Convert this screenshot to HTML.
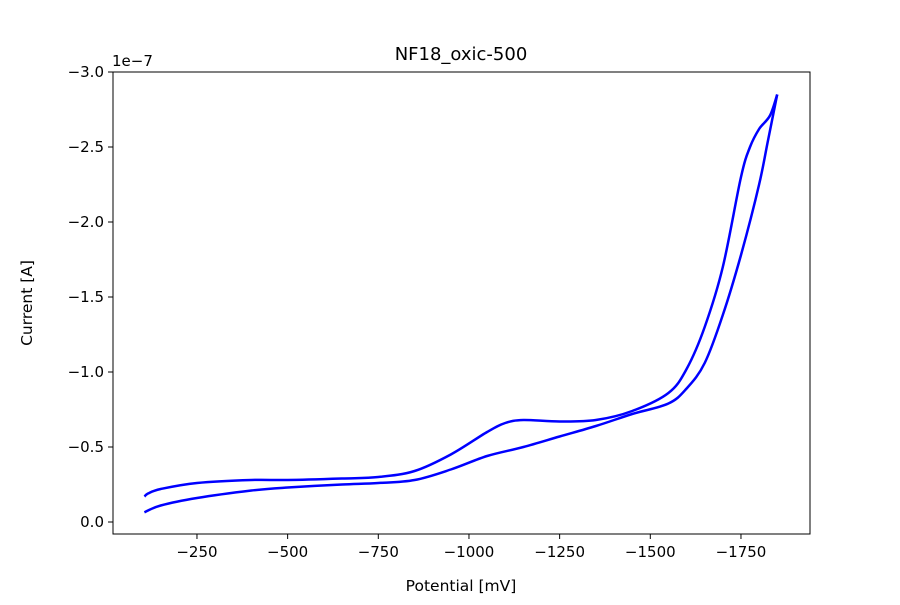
<!DOCTYPE html>
<html><head><meta charset="utf-8"><style>
body{margin:0;background:#fff}
svg text{font-family:"DejaVu Sans","Liberation Sans",sans-serif;fill:#000}
</style></head><body>
<svg id="chart" width="900" height="600" xmlns="http://www.w3.org/2000/svg">
<rect width="900" height="600" fill="#fff"/>
<text x="461" y="60" font-size="18" text-anchor="middle">NF18_oxic-500</text>
<text x="112" y="66" font-size="15">1e−7</text>
<g id="ticks"></g>
<g id="series"></g>
<rect x="113" y="72" width="697" height="462" fill="none" stroke="#000" stroke-width="1"/>
<text x="461" y="591" font-size="15.5" text-anchor="middle">Potential [mV]</text>
<text transform="translate(32,303) rotate(-90)" font-size="15.5" text-anchor="middle">Current [A]</text>
</svg>
<script>
const xTicks=[-250,-500,-750,-1000,-1250,-1500,-1750];
const yTicks=[0.0,-0.5,-1.0,-1.5,-2.0,-2.5,-3.0];
const fwdPotential=[-105,-115,-150,-250,-400,-500,-650,-750,-850,-950,-1050,-1100,-1150,-1250,-1350,-1450,-1550,-1600,-1650,-1700,-1750,-1775,-1800,-1830,-1850];
const fwdCurrent=[-0.17,-0.19,-0.22,-0.26,-0.28,-0.28,-0.29,-0.30,-0.34,-0.45,-0.60,-0.66,-0.68,-0.67,-0.68,-0.74,-0.86,-1.02,-1.30,-1.70,-2.30,-2.50,-2.62,-2.71,-2.85];
const revPotential=[-1850,-1825,-1800,-1750,-1700,-1650,-1600,-1550,-1450,-1350,-1250,-1150,-1050,-950,-850,-750,-650,-500,-400,-250,-150,-105];
const revCurrent=[-2.85,-2.55,-2.25,-1.78,-1.38,-1.06,-0.89,-0.79,-0.72,-0.64,-0.57,-0.50,-0.44,-0.35,-0.28,-0.26,-0.25,-0.23,-0.21,-0.16,-0.11,-0.065];
const NS="http://www.w3.org/2000/svg";
function xs(v){return 106.3+(-v)*(544/1500);}
function ys(v){return 522+v*150;}
const tg=document.getElementById('ticks');
function mk(tag,attrs,parent){const e=document.createElementNS(NS,tag);for(const k in attrs)e.setAttribute(k,attrs[k]);parent.appendChild(e);return e;}
xTicks.forEach(t=>{
  const x=xs(t);
  const l=mk('line',{x1:x,x2:x,y1:534,y2:539,stroke:'#000'},tg);
  
  
  const tx=mk('text',{x:x,y:557,'font-size':15,'text-anchor':'middle'},tg);
  tx.textContent=(t<0?'−':'')+Math.abs(t);
  
  
});
yTicks.forEach(t=>{
  const y=ys(t);
  const l=mk('line',{x1:108,x2:113,y1:y,y2:y,stroke:'#000'},tg);
  
  
  const tx=mk('text',{x:104,y:y+5,'font-size':15,'text-anchor':'end'},tg);
  tx.textContent=(t<0?'−':'')+Math.abs(t).toFixed(1);
  
  
});
const sg=document.getElementById('series');
function line(px,py,name){
  const P=px.map((p,i)=>[xs(p),ys(py[i])]);
  let d='M'+P[0][0].toFixed(1)+','+P[0][1].toFixed(1);
  for(let i=0;i<P.length-1;i++){
    const p0=P[Math.max(0,i-1)],p1=P[i],p2=P[i+1],p3=P[Math.min(P.length-1,i+2)];
    const c1=[p1[0]+(p2[0]-p0[0])/6,p1[1]+(p2[1]-p0[1])/6];
    const c2=[p2[0]-(p3[0]-p1[0])/6,p2[1]-(p3[1]-p1[1])/6];
    d+=' C'+c1.map(v=>v.toFixed(1))+' '+c2.map(v=>v.toFixed(1))+' '+p2.map(v=>v.toFixed(1));
  }
  const p=mk('path',{d:d,fill:'none',stroke:'#0000ff','stroke-width':2.5,'stroke-linejoin':'round'},sg);
  
  
}
line(fwdPotential,fwdCurrent,'forward-scan-line');
line(revPotential,revCurrent,'reverse-scan-line');
</script>
</body></html>
